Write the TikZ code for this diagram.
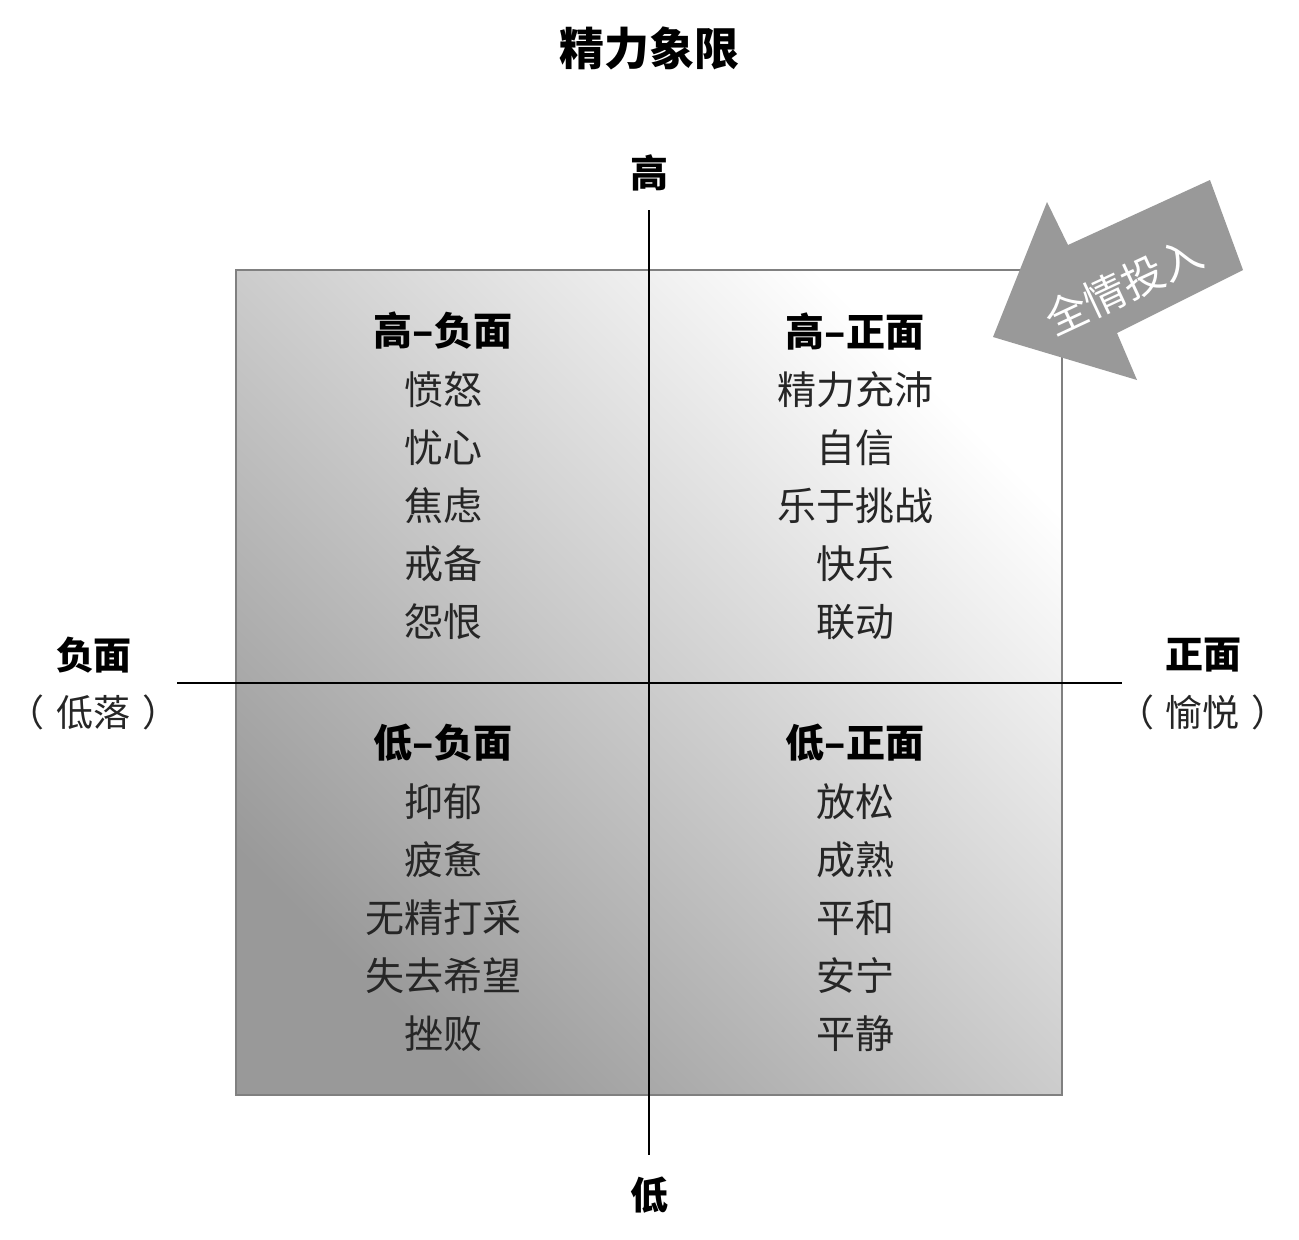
\documentclass[tikz,border=0pt]{standalone}
\usepackage{fontspec}
\setmainfont{Noto Sans CJK SC}
\usetikzlibrary{calc}
\begin{document}
\begin{tikzpicture}[x=1pt,y=-1pt,
  body/.style={font=\fontsize{39}{39}\selectfont, text=black!85, inner sep=0pt},
  head/.style={font=\fontsize{39}{39}\selectfont\bfseries, text=black, inner sep=0pt},
  axlabel/.style={font=\fontsize{38}{38}\selectfont\bfseries, text=black, inner sep=0pt},
  sublabel/.style={font=\fontsize{37}{37}\selectfont, text=black!85, inner sep=0pt},
  axisline/.style={draw=black, line width=1.5pt}]
\useasboundingbox (0,0) rectangle (1299,1240);
\fill[white] (0,0) rectangle (1299,1240);
% gradient box
\shade[left color=white, right color=black!40, shading angle=-45] (236,270) rectangle (1062,1095);
\draw[draw=black!50, line width=2pt] (236,270) rectangle (1062,1095);
% axes
\coordinate (vtop) at (649,210);
\coordinate (vbot) at (649,1155);
\coordinate (hl) at (177,683);
\coordinate (hr) at (1122,683);
\draw[axisline] (vtop) -- (vbot);
\draw[axisline] (hl) -- (hr);
% arrow
\fill[black!40] (993,337) -- (1047,202) -- (1068,245) -- (1210,180) -- (1243,270) -- (1117,333) -- (1137,380) -- cycle;
\node[font=\fontsize{42}{42}\selectfont, text=white, rotate=25, inner sep=0pt] (arrowtxt) at (1124,286) {全情投入};
% title
\node[font=\fontsize{45}{45}\selectfont\bfseries, inner sep=0pt] (title) at (649,48) {精力象限};
% axis labels
\node[axlabel] (high) at (649,173) {高};
\node[axlabel] (low) at (649,1195) {低};
\node[axlabel] (neg) at (94,655) {负面};
\node[sublabel] (negsub) at (94,712) {（\hspace{12pt}低落\hspace{12pt}）};
\node[axlabel] (pos) at (1203,655) {正面};
\node[sublabel] (possub) at (1203,712) {（\hspace{12pt}愉悦\hspace{12pt}）};
% quadrant headings
\node[head] (hn) at (443,331) {高–负面};
\node[head] (hp) at (855,331) {高–正面};
\node[head] (ln) at (443,743) {低–负面};
\node[head] (lp) at (855,743) {低–正面};
% top-left
\node[body] (a1) at (443,390) {愤怒};
\node[body] (a2) at (443,448) {忧心};
\node[body] (a3) at (443,506) {焦虑};
\node[body] (a4) at (443,564) {戒备};
\node[body] (a5) at (443,622) {怨恨};
% top-right
\node[body] (b1) at (855,390) {精力充沛};
\node[body] (b2) at (855,448) {自信};
\node[body] (b3) at (855,506) {乐于挑战};
\node[body] (b4) at (855,564) {快乐};
\node[body] (b5) at (855,622) {联动};
% bottom-left
\node[body] (c1) at (443,802) {抑郁};
\node[body] (c2) at (443,860) {疲惫};
\node[body] (c3) at (443,918) {无精打采};
\node[body] (c4) at (443,976) {失去希望};
\node[body] (c5) at (443,1034) {挫败};
% bottom-right
\node[body] (d1) at (855,802) {放松};
\node[body] (d2) at (855,860) {成熟};
\node[body] (d3) at (855,918) {平和};
\node[body] (d4) at (855,976) {安宁};
\node[body] (d5) at (855,1034) {平静};
\end{tikzpicture}
\end{document}
